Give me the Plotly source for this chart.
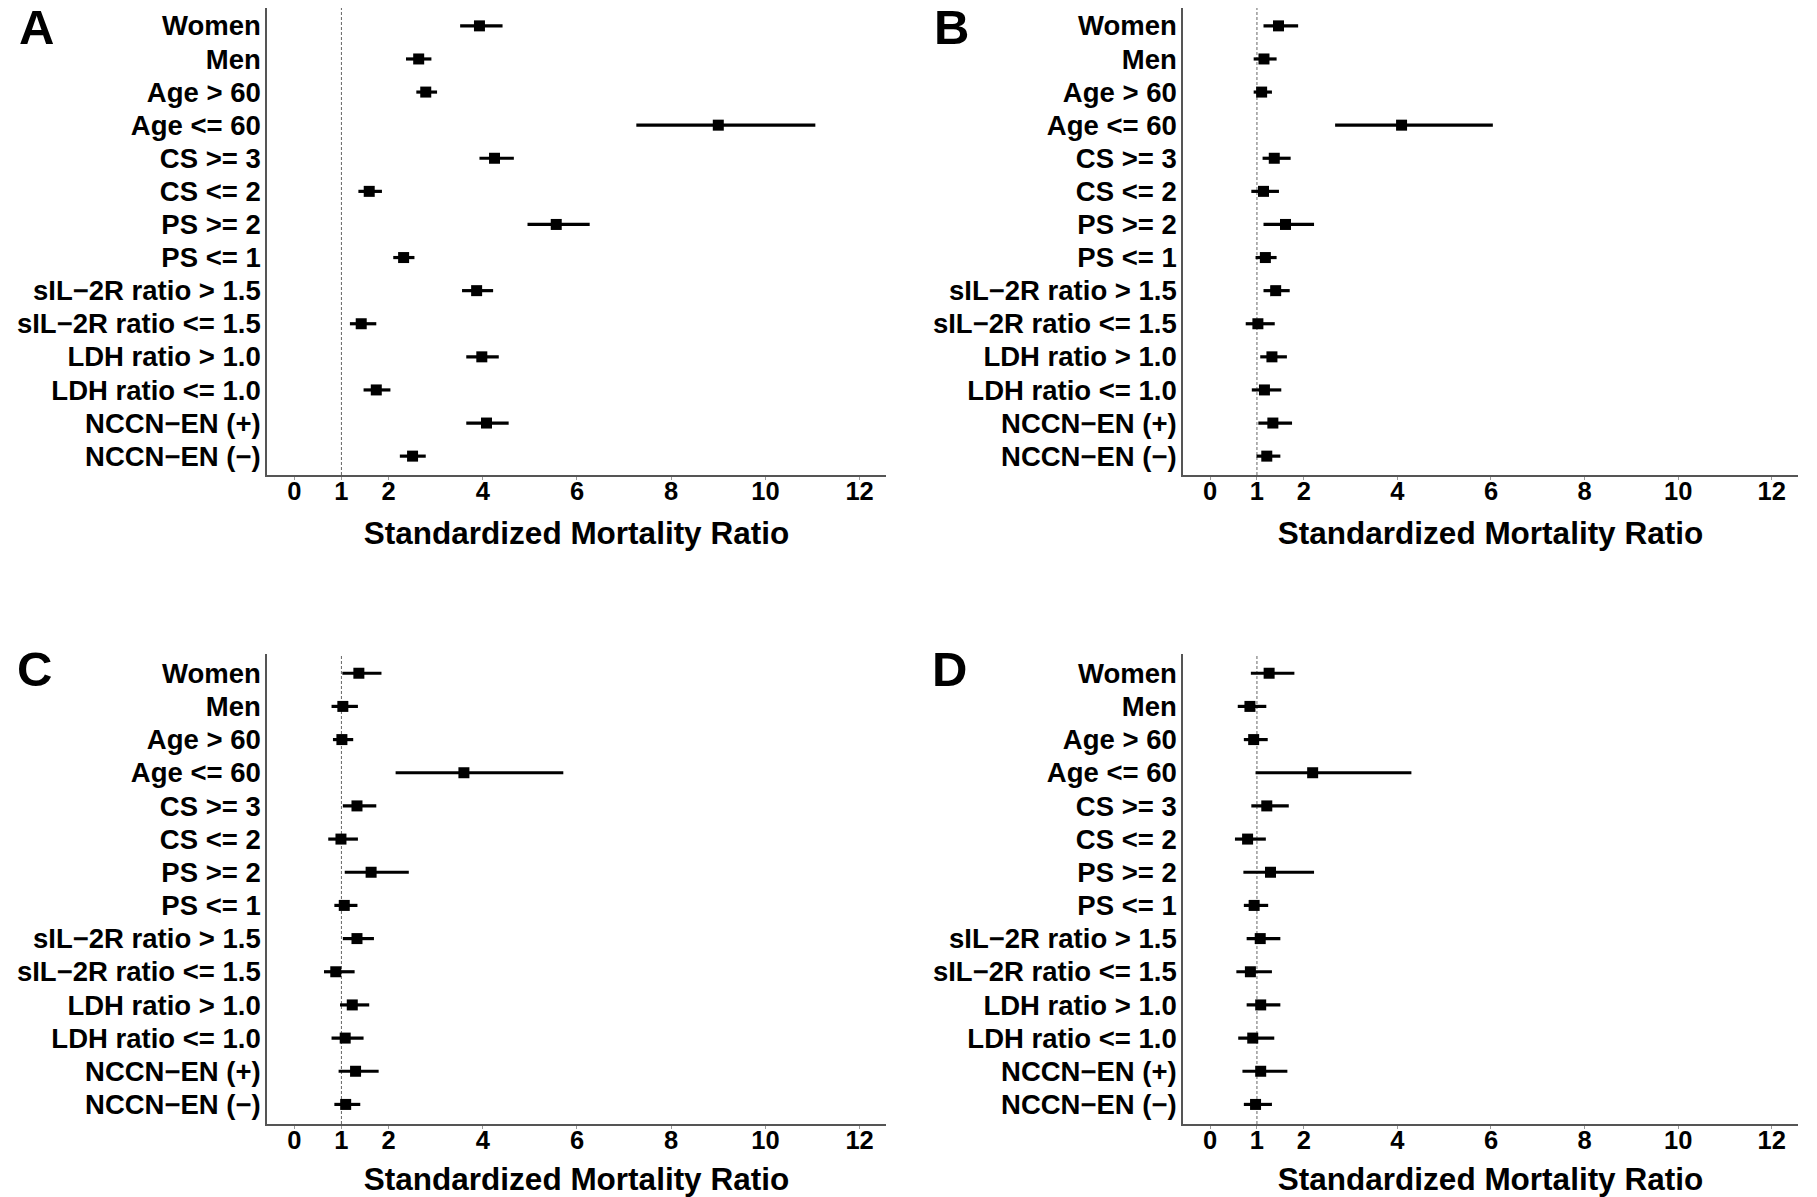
import plotly.graph_objects as go

categories = ["Women", "Men", "Age > 60", "Age <= 60", "CS >= 3", "CS <= 2",
              "PS >= 2", "PS <= 1", "sIL−2R ratio > 1.5", "sIL−2R ratio <= 1.5",
              "LDH ratio > 1.0", "LDH ratio <= 1.0", "NCCN−EN (+)", "NCCN−EN (−)"]

smr_a = [3.93, 2.64, 2.79, 9.00, 4.25, 1.59, 5.56, 2.32, 3.87, 1.42, 3.98, 1.74, 4.08, 2.51]
lo_a = [3.52, 2.37, 2.59, 7.26, 3.93, 1.36, 4.95, 2.10, 3.56, 1.18, 3.65, 1.47, 3.65, 2.24]
hi_a = [4.42, 2.91, 3.03, 11.06, 4.66, 1.86, 6.27, 2.55, 4.22, 1.74, 4.34, 2.04, 4.55, 2.79]

smr_b = [1.46, 1.15, 1.10, 4.09, 1.37, 1.14, 1.61, 1.18, 1.40, 1.02, 1.32, 1.16, 1.34, 1.21]
lo_b = [1.14, 0.93, 0.93, 2.67, 1.12, 0.88, 1.14, 0.97, 1.14, 0.76, 1.07, 0.89, 1.03, 0.99]
hi_b = [1.88, 1.42, 1.32, 6.04, 1.72, 1.47, 2.22, 1.42, 1.70, 1.38, 1.64, 1.52, 1.75, 1.50]

smr_c = [1.37, 1.03, 1.01, 3.60, 1.33, 0.99, 1.63, 1.06, 1.33, 0.88, 1.23, 1.08, 1.30, 1.09]
lo_c = [1.02, 0.79, 0.82, 2.15, 1.03, 0.72, 1.07, 0.85, 1.03, 0.63, 0.97, 0.79, 0.94, 0.85]
hi_c = [1.85, 1.35, 1.25, 5.71, 1.74, 1.35, 2.43, 1.34, 1.69, 1.28, 1.59, 1.47, 1.79, 1.40]

smr_d = [1.26, 0.85, 0.93, 2.19, 1.21, 0.80, 1.29, 0.94, 1.07, 0.86, 1.08, 0.91, 1.08, 0.97]
lo_d = [0.87, 0.59, 0.72, 0.97, 0.88, 0.53, 0.71, 0.72, 0.78, 0.56, 0.78, 0.60, 0.69, 0.72]
hi_d = [1.80, 1.20, 1.23, 4.30, 1.68, 1.19, 2.22, 1.24, 1.50, 1.32, 1.50, 1.37, 1.65, 1.32]

panel_letters = ["A", "B", "C", "D"]
x_tickvals = [0, 1, 2, 4, 6, 8, 10, 12]
x_title = "Standardized Mortality Ratio"

OFF = 8  # default page body margin
W, H = 1817 - OFF, 1197 - OFF
FONT = "Liberation Sans, Arial, Helvetica, sans-serif"

# target screen-pixel boxes (left, right), (top, bottom), y range
panels = [
    (smr_a, lo_a, hi_a, (267, 886), (8, 475), [-0.57, 13.54]),
    (smr_b, lo_b, hi_b, (1183, 1798), (8, 475), [-0.57, 13.54]),
    (smr_c, lo_c, hi_c, (267, 886), (654, 1124), [-0.59, 13.58]),
    (smr_d, lo_d, hi_d, (1183, 1798), (654, 1124), [-0.59, 13.58]),
]
letter_pos = [(36, 27), (952, 27), (34, 669), (950, 669)]

fig = go.Figure()
layout = dict(
    width=W, height=H,
    margin=dict(l=0, r=0, t=0, b=0),
    paper_bgcolor="white", plot_bgcolor="white",
    showlegend=False,
    font=dict(family=FONT, color="black", weight="bold"),
)
shapes = []
annotations = []

for i, (smr, lo, hi, (x0, x1), (ytop, ybot), yr) in enumerate(panels):
    n = "" if i == 0 else str(i + 1)
    xa, ya = "x" + n, "y" + n
    fig.add_trace(go.Scatter(
        x=smr, y=categories, xaxis=xa, yaxis=ya, mode="markers",
        marker=dict(symbol="square", size=11, color="black"),
        error_x=dict(type="data", symmetric=False,
                     array=[h - s for h, s in zip(hi, smr)],
                     arrayminus=[s - l for s, l in zip(smr, lo)],
                     thickness=3.2, width=0, color="black"),
        hoverinfo="x+y",
    ))
    layout["xaxis" + n] = dict(
        domain=[(x0 - OFF) / W, min(1, (x1 - OFF) / W)], anchor=ya,
        range=[-0.58, 12.56], tickvals=x_tickvals,
        showgrid=False, zeroline=False, showline=True,
        linecolor="#555555", linewidth=1.5,
        ticks="outside", ticklen=3, tickcolor="#999999", tickwidth=1,
        ticklabelstandoff=-10,
        tickfont=dict(size=25.5, family=FONT, weight="bold"),
        title=dict(text=x_title, font=dict(size=31.5, family=FONT, weight="bold"), standoff=18),
    )
    layout["yaxis" + n] = dict(
        domain=[max(0, 1 - (ybot - OFF) / H), min(1, 1 - (ytop - OFF) / H)], anchor=xa,
        type="category", categoryorder="array", categoryarray=categories[::-1],
        range=yr,
        showgrid=False, zeroline=False, showline=True,
        linecolor="#555555", linewidth=1.5,
        ticks="", ticklabelstandoff=-1,
        tickfont=dict(size=27.5, family=FONT, weight="bold"),
    )
    shapes.append(dict(
        type="line", xref=xa, yref=ya + " domain", x0=1, x1=1, y0=0, y1=1,
        line=dict(color="#666666", width=1, dash="3px,2px"), layer="below",
    ))
    lx, ly = letter_pos[i]
    annotations.append(dict(
        text=panel_letters[i], xref="paper", yref="paper",
        x=(lx - OFF) / W, y=1 - (ly - OFF) / H, xanchor="center", yanchor="middle",
        showarrow=False, font=dict(size=49, family=FONT, weight="bold", color="black"),
    ))

layout["shapes"] = shapes
layout["annotations"] = annotations
fig.update_layout(**layout)
fig.write_html("out.html")
